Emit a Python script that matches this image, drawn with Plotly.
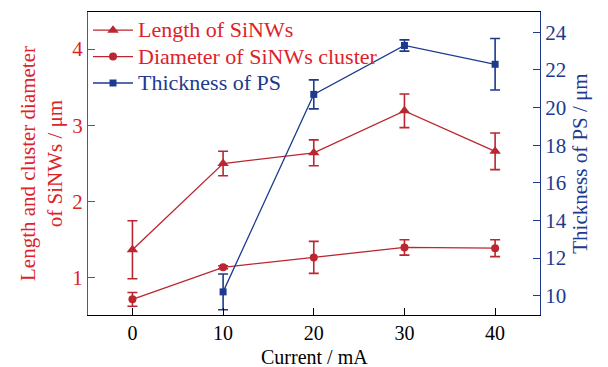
import plotly.graph_objects as go

current = [0, 10, 20, 30, 40]
length_vals = [1.37, 2.50, 2.64, 3.19, 2.66]
length_err = [0.38, 0.16, 0.17, 0.22, 0.24]
diam_vals = [0.72, 1.14, 1.27, 1.40, 1.39]
diam_err = [0.09, 0.02, 0.21, 0.10, 0.11]
ps_x = [10, 20, 30, 40]
ps_vals = [10.2, 20.7, 23.3, 22.3]
ps_err = [0.95, 0.77, 0.3, 1.37]

RED_TXT = "#dd2229"
RED = "#bb2630"
BLUE = "#1d3a8f"
FONT = "Liberation Serif"
FS = 21


def lg(text, color):
    return "<span style='color:%s;font-size:22px'>%s</span>" % (color, text)


fig = go.Figure()
fig.add_trace(go.Scatter(
    x=current, y=length_vals, mode="lines+markers",
    name=lg("Length of SiNWs", RED_TXT),
    line=dict(color=RED, width=1.3),
    marker=dict(symbol="triangle-up", size=10, color=RED),
    error_y=dict(type="data", array=length_err, color=RED, thickness=1.6, width=5),
))
fig.add_trace(go.Scatter(
    x=current, y=diam_vals, mode="lines+markers",
    name=lg("Diameter of SiNWs cluster", RED_TXT),
    line=dict(color=RED, width=1.3),
    marker=dict(symbol="circle", size=8, color=RED),
    error_y=dict(type="data", array=diam_err, color=RED, thickness=1.6, width=5),
))
fig.add_trace(go.Scatter(
    x=ps_x, y=ps_vals, mode="lines+markers", yaxis="y2",
    name=lg("Thickness of PS", BLUE),
    line=dict(color=BLUE, width=1.3),
    marker=dict(symbol="square", size=7, color=BLUE),
    error_y=dict(type="data", array=ps_err, color=BLUE, thickness=1.6, width=5),
))

fig.update_layout(
    width=608, height=367,
    margin=dict(l=88, r=68, t=12, b=52),
    paper_bgcolor="white", plot_bgcolor="white",
    font=dict(family=FONT, size=FS, color="black"),
    showlegend=True,
    legend=dict(x=0.0, y=1.0, xanchor="left", yanchor="top",
                bgcolor="rgba(0,0,0,0)", font=dict(family=FONT, size=18),
                itemwidth=40, tracegroupgap=0, traceorder="normal"),
    xaxis=dict(range=[-4.9, 44.95], tickvals=[0, 10, 20, 30, 40],
               ticks="inside", ticklen=7, tickcolor="black", automargin=False,
               showline=True, linecolor="black", linewidth=1.2, mirror=True,
               showgrid=False, zeroline=False,
               tickfont=dict(family=FONT, size=20, color="black")),
    yaxis=dict(range=[0.515, 4.485], tickvals=[1, 2, 3, 4],
               ticks="inside", ticklen=7, tickcolor=RED_TXT, automargin=False,
               showline=True, linecolor=RED_TXT, linewidth=1.2,
               showgrid=False, zeroline=False,
               title=dict(text="Length and cluster diameter<br>of SiNWs / μm", standoff=3,
                          font=dict(family=FONT, size=FS, color=RED_TXT)),
               tickfont=dict(family=FONT, size=FS, color=RED_TXT)),
    yaxis2=dict(range=[8.97, 25.08], tickvals=[10, 12, 14, 16, 18, 20, 22, 24],
                overlaying="y", side="right", automargin=False,
                ticks="inside", ticklen=7, tickcolor=BLUE,
                showline=True, linecolor=BLUE, linewidth=1.2,
                showgrid=False, zeroline=False,
                title=dict(text="Thickness of PS / μm", standoff=6,
                           font=dict(family=FONT, size=FS, color=BLUE)),
                tickfont=dict(family=FONT, size=FS, color=BLUE)),
    annotations=[dict(text="Current / mA", xref="paper", yref="paper",
                      x=0.5, y=0, xanchor="center", yanchor="middle", yshift=-42,
                      showarrow=False, font=dict(family=FONT, size=20, color="black"))],
)

fig.write_html("out.html")
